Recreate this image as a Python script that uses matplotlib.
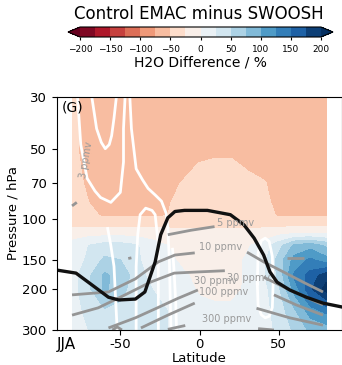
import numpy as np
import matplotlib
matplotlib.use("Agg")
import matplotlib.pyplot as plt
from matplotlib.ticker import NullLocator

# grid of the difference field (%)
lats = [-80, -70, -60, -50, -40, -30, -20, -10, 0, 10, 20, 30, 40, 50, 60, 70, 80]
plevs = [30, 50, 60, 70, 85, 97, 105, 115, 130, 150, 175, 200, 250, 300]
diff = [
    [-45, -60, -60, -60, -60, -60, -60, -60, -60, -60, -60, -60, -60, -60, -60, -60, -60],
    [-45, -60, -60, -60, -60, -60, -60, -60, -58, -56, -56, -58, -60, -60, -60, -60, -60],
    [-42, -58, -60, -60, -60, -60, -60, -57, -47, -44, -44, -52, -57, -60, -60, -60, -60],
    [-40, -55, -60, -60, -60, -60, -58, -48, -40, -38, -38, -42, -48, -58, -60, -60, -60],
    [-35, -50, -58, -60, -60, -60, -52, -42, -38, -38, -38, -38, -45, -55, -60, -60, -60],
    [-32, -46, -52, -52, -52, -52, -50, -40, -36, -36, -36, -36, -42, -52, -52, -52, -52],
    [-35, -35, -35, -35, -35, -35, -33, -32, -32, -32, -32, -32, -33, -35, -35, -35, -35],
    [-10, -10, -10, -10, -10, -12, -15, -18, -18, -18, -18, -18, -15, -8, -3, -3, -5],
    [8, 25, 35, 35, 28, 10, 0, -8, -10, -10, -8, -3, 10, 40, 80, 90, 70],
    [10, 30, 55, 50, 30, 12, 5, -5, -8, -8, -8, 3, 15, 60, 110, 130, 110],
    [15, 45, 80, 65, 40, 15, 10, 3, -6, -8, -8, 3, 20, 55, 130, 160, 190],
    [15, 45, 80, 60, 35, 25, 15, 8, -3, -6, -6, 3, 15, 45, 110, 170, 210],
    [10, 35, 45, 40, 30, 35, 25, 15, 8, 5, 5, 8, 15, 35, 70, 110, 130],
    [10, 25, 35, 30, 25, 30, 25, 15, 12, 10, 10, 10, 15, 30, 55, 80, 85],
]

# tropopause (black)
trop_lat = [-90, -78, -68, -57.5, -51, -40.5, -34.5, -28, -24.5, -20, -15.5, -9.5, 5, 19.5,
            28, 34.5, 40.5, 44.5, 49, 57, 67.5, 78, 90]
trop_p = [166, 171, 192, 217, 223, 221, 206, 153, 117, 99, 93, 92, 92, 96,
          106, 121, 143, 169, 187, 202, 217, 230, 239]

# white contours
white_lines = [
    ([-68, -65, -62, -59.5, -57, -55.5, -54, -52.5], [30, 41, 47, 50, 48, 44, 37, 30]),
    ([-77, -75, -71, -66, -62.5, -56, -50, -48, -48, -47], [30, 48, 67, 76, 81, 85, 77, 57, 41, 30]),
    ([-44, -43, -40, -36, -32.5, -28, -24, -21, -20, -19, -18.5, -18],
     [30, 41, 61, 68, 74, 79, 84, 95, 110, 153, 220, 300]),
    ([-40, -40, -39, -37.5, -34, -30, -28, -26, -26], [300, 160, 117, 96, 90, 92, 96, 130, 300]),
    ([-58, -56, -54, -53, -52], [110, 130, 160, 220, 300]),
    ([-17, -16, -15, -14.5], [135, 170, 230, 300]),
    ([36.5, 37, 39, 41.5, 44, 46, 46.5, 46, 44, 41.5, 39, 37, 36.5],
     [190, 140, 124, 121, 125, 145, 190, 240, 262, 266, 258, 235, 190]),
]

# water vapour contours (grey)
grey_lines = [
    ([-80.5, -77.5], [88, 85]),
    ([-45, -43], [148, 147]),
    ([-20, -5.5, 9.5], [117, 112, 108]),
    ([-80.5, -57.5, -40.5, -26, -15.5, -3], [212, 206, 181, 153, 143, 140]),
    ([-80.5, -64, -47, -31, -16, -1, 16], [259, 241, 212, 187, 171, 169, 167]),
    ([-57.5, -40.5, -26, -14, -1], [294, 266, 240, 220, 202]),
    ([-37, -20, -3], [294, 259, 230]),
    ([-20, -9], [298, 287]),
    ([-55, -52, -49], [300, 291, 300]),
    ([30, 40.5, 53, 65.5, 78], [139, 153, 169, 187, 206]),
    ([40.5, 57, 78], [178, 202, 234]),
    ([47, 61, 78], [212, 234, 259]),
    ([36, 57, 78], [242, 266, 286]),
    ([37, 47], [296, 300]),
    ([55, 66], [147, 147]),
]
grey_labels = ["3 ppmv", "5 ppmv", "10 ppmv", "30 ppmv", "30 ppmv", "100 ppmv", "300 ppmv"]
label_lat = [-71.5, 23, 13, 10, 31, 15, 17]
label_p = [56, 104, 132, 184, 179, 207, 270]
label_rot = [80, 0, 0, 0, 0, 0, 0]

levels = np.arange(-200, 201, 25)

fig = plt.figure(figsize=(3.42, 3.65), dpi=100)
ax = fig.add_axes([57/342, 35/365, 285/342, 233/365])

cf = ax.contourf(lats, plevs, diff, levels=levels, cmap='RdBu', extend='both')

for lx, lp in white_lines:
    ax.plot(lx, lp, color='white', lw=2, solid_joinstyle='round')
for lx, lp in grey_lines:
    ax.plot(lx, lp, color='#959595', lw=2, solid_capstyle='butt', solid_joinstyle='round')
for t, la, pp, r in zip(grey_labels, label_lat, label_p, label_rot):
    ax.text(la, pp, t, color='#9a9a9a', fontsize=7, ha='center', va='center', rotation=r)
ax.plot(trop_lat, trop_p, color='#111111', lw=2.4, solid_joinstyle='round')

ax.set_yscale('log')
ax.set_ylim(300, 30)
ax.set_xlim(-90, 90)
ax.set_yticks([30, 50, 70, 100, 150, 200, 300])
ax.set_yticklabels(['30', '50', '70', '100', '150', '200', '300'], fontsize=9.5)
ax.yaxis.set_minor_locator(NullLocator())
ax.set_xticks([-50, 0, 50])
ax.set_xticklabels(['-50', '0', '50'], fontsize=9.5)
ax.tick_params(axis='x', pad=2)
ax.set_ylabel('Pressure / hPa', fontsize=9.5, labelpad=2)
ax.set_xlabel('Latitude', fontsize=9.5, labelpad=1)
ax.text(0.018, 0.985, '(G)', transform=ax.transAxes, va='top', ha='left', fontsize=10)
fig.text(57/342, 1 - 344/365, 'JJA', fontsize=11, ha='left', va='center')

cax = fig.add_axes([68/342, 1 - 37/365, 265/342, 10/365])
cb = fig.colorbar(cf, cax=cax, orientation='horizontal', ticks=range(-200, 201, 50))
cb.ax.tick_params(labelsize=6.5, length=2)
cb.set_label('H2O Difference / %', fontsize=10, labelpad=1)
fig.text(199/342, 1 - 14/365, 'Control EMAC minus SWOOSH', fontsize=12, ha='center', va='center')

fig.savefig('out.png', dpi=100)
